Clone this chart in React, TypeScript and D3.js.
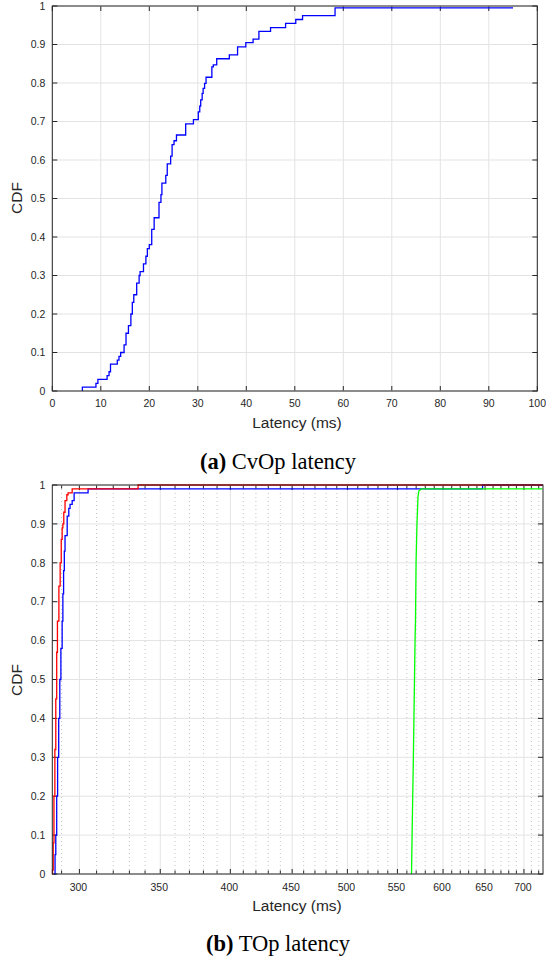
import * as React from 'react';
import * as d3 from 'd3';

// (a) CvOp latency, step CDF
const cvopMs = [6.2, 6.2, 9.0, 9.4, 11.3, 11.7, 12.0, 13.4, 13.75, 14.1, 14.8, 15.2, 15.7, 16.2, 16.5, 16.8, 17.4, 17.9, 18.1, 18.8, 19.3, 19.6, 20.0, 20.5, 21.0, 22.0, 22.4, 22.6, 23.4, 23.7, 24.4, 24.7, 25.1, 25.6, 27.5, 29.1, 30.1, 30.4, 30.6, 30.9, 31.1, 31.4, 31.7, 32.9, 33.2, 33.9, 36.5, 38.2, 39.9, 41.4, 42.6, 45.0, 48.1, 50.2, 51.6, 58.3, 95];
const cvopCdf = [0, 0.01, 0.02, 0.03, 0.04, 0.05, 0.07, 0.08, 0.09, 0.10, 0.12, 0.15, 0.17, 0.20, 0.23, 0.25, 0.28, 0.30, 0.31, 0.33, 0.35, 0.37, 0.38, 0.42, 0.45, 0.49, 0.51, 0.54, 0.56, 0.59, 0.61, 0.64, 0.65, 0.665, 0.694, 0.705, 0.725, 0.74, 0.756, 0.773, 0.786, 0.799, 0.815, 0.842, 0.847, 0.863, 0.873, 0.894, 0.905, 0.914, 0.934, 0.944, 0.955, 0.965, 0.975, 0.995, 0.995];

// (b) TOp latency, three series
const topRedMs = [284.9, 285.0, 285.4, 285.8, 286.3, 286.8, 287.3, 287.7, 288.5, 289.2, 289.8, 290.3, 290.7, 291.2, 291.9, 292.9, 293.6, 295.9, 335.5, 725];
const topRedCdf = [0, 0.01, 0.08, 0.2, 0.32, 0.45, 0.57, 0.65, 0.74, 0.8, 0.86, 0.89, 0.9, 0.93, 0.96, 0.975, 0.98, 0.99, 1.0, 1.0];
const topBlueMs = [285.9, 286.4, 286.8, 287.3, 287.8, 288.4, 289.0, 289.6, 290.3, 290.7, 291.1, 291.5, 291.9, 293.1, 294.0, 294.7, 295.9, 297.0, 305.0, 646.9, 725];
const topBlueCdf = [0, 0.05, 0.1, 0.2, 0.3, 0.4, 0.5, 0.58, 0.65, 0.72, 0.78, 0.83, 0.87, 0.92, 0.94, 0.95, 0.96, 0.98, 0.99, 1.0, 1.0];
const topGreenMs = [565, 565.6, 566.3, 567, 567.6, 568.2, 568.8, 569.3, 569.9, 570.9, 572, 573, 575.8, 725];
const topGreenCdf = [0, 0.1, 0.2, 0.3, 0.4, 0.5, 0.6, 0.65, 0.8, 0.9, 0.97, 0.985, 0.99, 0.99];

const cdfTicks = d3.range(0, 11).map(i => i / 10);
const cvopTicks = d3.range(0, 101, 10);
const topMajor = [300, 350, 400, 450, 500, 550, 600, 650, 700];
const topMinor = d3.range(290, 721, 10).filter(v => v % 50 !== 0);

const axisCol = '#262626';
const gridCol = '#e3e3e3';
const sans = '"Liberation Sans", Arial, sans-serif';
const serif = '"Liberation Serif", "Times New Roman", serif';

const zip = (xs: number[], ys: number[]): [number, number][] => xs.map((x, i) => [x, ys[i]]);

const YAxis = ({ y, left, right }) => (
  <g>
    {cdfTicks.map(v => (
      <g key={v}>
        <line x1={left} x2={right} y1={y(v)} y2={y(v)} stroke={gridCol} />
        <line x1={left} x2={left + 5} y1={y(v)} y2={y(v)} stroke={axisCol} />
        <line x1={right} x2={right - 5} y1={y(v)} y2={y(v)} stroke={axisCol} />
        <text x={left - 7} y={y(v) + 3.7} textAnchor="end" fontSize={10.5} fill={axisCol} fontFamily={sans}>{d3.format('~g')(v)}</text>
      </g>
    ))}
  </g>
);

export default function App() {
  // top chart
  const xa = d3.scaleLinear().domain([0, 100]).range([52.3, 537.3]);
  const ya = d3.scaleLinear().domain([0, 1]).range([391, 6]);
  const lineA = d3.line<[number, number]>().x(d => xa(d[0])).y(d => ya(d[1])).curve(d3.curveStepAfter);

  // bottom chart (log x)
  const xb = d3.scaleLog().domain([284.9, 725.9]).range([52.3, 543]);
  const yb = d3.scaleLinear().domain([0, 1]).range([874, 485]);
  const stepB = d3.line<[number, number]>().x(d => xb(d[0])).y(d => yb(d[1])).curve(d3.curveStepAfter);
  const linB = d3.line<[number, number]>().x(d => xb(d[0])).y(d => yb(d[1]));

  return (
    <svg width={546} height={963} style={{ position: 'absolute', left: 0, top: 0, background: '#fff' }}>
      {/* ---- (a) ---- */}
      {cvopTicks.map(v => (
        <g key={v}>
          <line x1={xa(v)} x2={xa(v)} y1={6} y2={391} stroke={gridCol} />
          <line x1={xa(v)} x2={xa(v)} y1={391} y2={386} stroke={axisCol} />
          <line x1={xa(v)} x2={xa(v)} y1={6} y2={11} stroke={axisCol} />
          <text x={xa(v)} y={407} textAnchor="middle" fontSize={10.5} fill={axisCol} fontFamily={sans}>{v}</text>
        </g>
      ))}
      <YAxis y={ya} left={52.3} right={537.3} />
      <path d={lineA(zip(cvopMs, cvopCdf)) ?? ''} fill="none" stroke="#0000ff" strokeWidth={1.3} />
      <rect x={52.3} y={6} width={485} height={385} fill="none" stroke={axisCol} strokeWidth={1} />
      <text x={297} y={428} textAnchor="middle" fontSize={15.5} fill={axisCol} fontFamily={sans}>Latency (ms)</text>
      <text transform="translate(22,198) rotate(-90)" textAnchor="middle" fontSize={15.5} fill={axisCol} fontFamily={sans}>CDF</text>
      <text x={278} y={469} textAnchor="middle" fontSize={22.5} fill="#000" fontFamily={serif}>
        <tspan fontWeight="bold">(a)</tspan> CvOp latency
      </text>

      {/* ---- (b) ---- */}
      {topMinor.map(v => (
        <g key={v}>
          <line x1={xb(v)} x2={xb(v)} y1={485} y2={874} stroke="#c4c4c4" strokeDasharray="1,3" />
          <line x1={xb(v)} x2={xb(v)} y1={874} y2={870.5} stroke={axisCol} />
          <line x1={xb(v)} x2={xb(v)} y1={485} y2={488.5} stroke={axisCol} />
        </g>
      ))}
      {topMajor.map(v => (
        <g key={v}>
          <line x1={xb(v)} x2={xb(v)} y1={485} y2={874} stroke={gridCol} />
          <line x1={xb(v)} x2={xb(v)} y1={874} y2={869} stroke={axisCol} />
          <line x1={xb(v)} x2={xb(v)} y1={485} y2={490} stroke={axisCol} />
          <text x={xb(v) - 1} y={891} textAnchor="middle" fontSize={10.5} fill={axisCol} fontFamily={sans}>{v}</text>
        </g>
      ))}
      <YAxis y={yb} left={52.3} right={543} />
      <path d={stepB(zip(topBlueMs, topBlueCdf)) ?? ''} fill="none" stroke="#0000ff" strokeWidth={1.3} />
      <path d={stepB(zip(topRedMs, topRedCdf)) ?? ''} fill="none" stroke="#ff0000" strokeWidth={1.3} />
      <path d={linB(zip(topGreenMs, topGreenCdf)) ?? ''} fill="none" stroke="#00ff00" strokeWidth={1.3} />
      <rect x={52.3} y={485} width={490.7} height={389} fill="none" stroke={axisCol} strokeWidth={1} />
      <text x={297} y={911} textAnchor="middle" fontSize={15.5} fill={axisCol} fontFamily={sans}>Latency (ms)</text>
      <text transform="translate(22,680) rotate(-90)" textAnchor="middle" fontSize={15.5} fill={axisCol} fontFamily={sans}>CDF</text>
      <text x={278} y={951} textAnchor="middle" fontSize={22.5} fill="#000" fontFamily={serif}>
        <tspan fontWeight="bold">(b)</tspan> TOp latency
      </text>
    </svg>
  );
}
